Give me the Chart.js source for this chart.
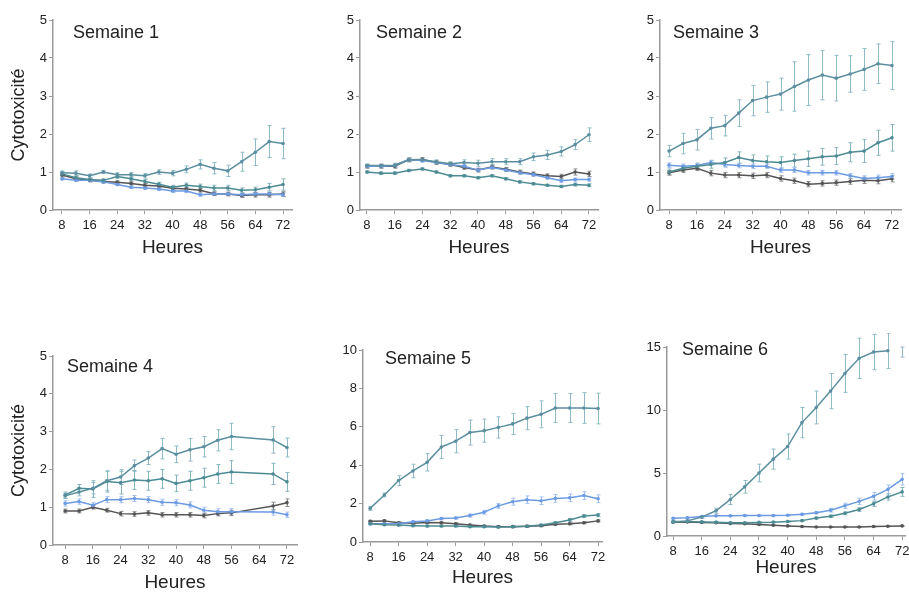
<!DOCTYPE html>
<html>
<head>
<meta charset="utf-8">
<title>Cytotoxicité par semaine</title>
<script src="https://cdn.jsdelivr.net/npm/chart.js@4.4.1/dist/chart.umd.min.js"></script>
<style>
  html, body { margin: 0; padding: 0; background: #fff; width: 909px; height: 592px; overflow: hidden; }
  #wrap { position: relative; width: 909px; height: 592px; }
  #wrap canvas { position: absolute; }
</style>
</head>
<body>
<div id="wrap"></div>
<script>
// time points and labels
const hours = [8, 12, 16, 20, 24, 28, 32, 36, 40, 44, 48, 52, 56, 60, 64, 68, 72];
const hourTicks = [8, 16, 24, 32, 40, 48, 56, 64, 72];
const titles = ["Semaine 1", "Semaine 2", "Semaine 3", "Semaine 4", "Semaine 5", "Semaine 6"];
const xLabel = "Heures";
const yLabel = "Cytotoxicité";

// semaine 1
const w1A = [0.98, 0.97, 0.90, 1.00, 0.93, 0.93, 0.90, 1.00, 0.97, 1.07, 1.20, 1.10, 1.03, 1.27, 1.52, 1.80, 1.75];
const w1Aerr = [0.05, 0.06, 0.05, 0.04, 0.05, 0.06, 0.06, 0.06, 0.07, 0.09, 0.12, 0.15, 0.15, 0.25, 0.35, 0.42, 0.40];
const w1B = [0.95, 0.85, 0.80, 0.78, 0.88, 0.82, 0.75, 0.68, 0.60, 0.65, 0.62, 0.58, 0.58, 0.52, 0.53, 0.60, 0.67];
const w1Berr = [0.05, 0.05, 0.04, 0.04, 0.05, 0.05, 0.05, 0.05, 0.05, 0.06, 0.06, 0.07, 0.07, 0.06, 0.07, 0.10, 0.15];
const w1C = [0.82, 0.78, 0.78, 0.74, 0.67, 0.60, 0.58, 0.55, 0.50, 0.50, 0.40, 0.42, 0.42, 0.40, 0.42, 0.42, 0.40];
const w1Cerr = [0.03, 0.03, 0.03, 0.03, 0.03, 0.03, 0.04, 0.04, 0.04, 0.04, 0.04, 0.04, 0.04, 0.04, 0.05, 0.05, 0.05];
const w1D = [0.92, 0.82, 0.78, 0.75, 0.73, 0.70, 0.65, 0.63, 0.57, 0.55, 0.52, 0.43, 0.42, 0.38, 0.40, 0.40, 0.42];
const w1Derr = [0.05, 0.05, 0.04, 0.04, 0.04, 0.04, 0.05, 0.05, 0.05, 0.05, 0.05, 0.05, 0.05, 0.05, 0.06, 0.06, 0.06];

// semaine 2
const w2A = [1.17, 1.17, 1.18, 1.32, 1.32, 1.27, 1.22, 1.25, 1.23, 1.27, 1.27, 1.27, 1.40, 1.45, 1.54, 1.72, 1.98];
const w2Aerr = [0.04, 0.04, 0.05, 0.05, 0.05, 0.05, 0.05, 0.07, 0.08, 0.08, 0.08, 0.08, 0.10, 0.12, 0.12, 0.13, 0.18];
const w2B = [1.00, 0.97, 0.97, 1.04, 1.08, 1.00, 0.90, 0.90, 0.85, 0.90, 0.82, 0.74, 0.69, 0.65, 0.62, 0.67, 0.65];
const w2Berr = [0.03, 0.03, 0.03, 0.03, 0.03, 0.03, 0.03, 0.03, 0.03, 0.03, 0.03, 0.03, 0.03, 0.03, 0.03, 0.04, 0.04];
const w2C = [1.15, 1.15, 1.17, 1.32, 1.30, 1.25, 1.20, 1.15, 1.05, 1.12, 1.05, 0.98, 0.93, 0.85, 0.77, 0.80, 0.80];
const w2Cerr = [0.04, 0.04, 0.04, 0.04, 0.04, 0.04, 0.04, 0.04, 0.04, 0.04, 0.04, 0.04, 0.04, 0.04, 0.04, 0.04, 0.04];
const w2D = [1.15, 1.15, 1.15, 1.32, 1.33, 1.25, 1.20, 1.12, 1.05, 1.13, 1.07, 1.00, 0.95, 0.90, 0.88, 1.00, 0.95];
const w2Derr = [0.05, 0.05, 0.05, 0.05, 0.05, 0.05, 0.05, 0.05, 0.05, 0.05, 0.05, 0.05, 0.05, 0.05, 0.06, 0.08, 0.07];

// semaine 3
const w3A = [1.55, 1.75, 1.85, 2.15, 2.22, 2.55, 2.88, 2.97, 3.05, 3.25, 3.42, 3.55, 3.47, 3.58, 3.70, 3.85, 3.80];
const w3Aerr = [0.15, 0.27, 0.27, 0.28, 0.27, 0.35, 0.40, 0.40, 0.42, 0.65, 0.67, 0.65, 0.60, 0.48, 0.55, 0.52, 0.63];
const w3B = [1.00, 1.10, 1.15, 1.20, 1.25, 1.38, 1.30, 1.27, 1.25, 1.30, 1.35, 1.40, 1.42, 1.52, 1.55, 1.77, 1.90];
const w3Berr = [0.08, 0.08, 0.08, 0.10, 0.12, 0.15, 0.15, 0.15, 0.15, 0.17, 0.20, 0.22, 0.22, 0.25, 0.30, 0.33, 0.35];
const w3C = [1.18, 1.15, 1.17, 1.25, 1.20, 1.17, 1.15, 1.15, 1.05, 1.05, 0.98, 0.98, 0.98, 0.90, 0.83, 0.85, 0.88];
const w3Cerr = [0.06, 0.06, 0.06, 0.06, 0.06, 0.06, 0.06, 0.06, 0.06, 0.06, 0.06, 0.06, 0.06, 0.06, 0.07, 0.07, 0.08];
const w3D = [0.98, 1.05, 1.10, 0.97, 0.92, 0.92, 0.90, 0.92, 0.83, 0.77, 0.68, 0.70, 0.72, 0.75, 0.78, 0.77, 0.82];
const w3Derr = [0.06, 0.06, 0.06, 0.07, 0.07, 0.07, 0.07, 0.07, 0.07, 0.07, 0.07, 0.07, 0.07, 0.07, 0.08, 0.08, 0.08];

// semaine 4 (pas de mesure a 60 et 64 h)
const w4A = [1.30, 1.40, 1.50, 1.70, 1.80, 2.10, 2.30, 2.55, 2.40, 2.52, 2.60, 2.77, 2.87, null, null, 2.78, 2.58];
const w4Aerr = [0.07, 0.10, 0.15, 0.25, 0.20, 0.15, 0.17, 0.27, 0.22, 0.30, 0.27, 0.28, 0.35, null, null, 0.35, 0.25];
const w4B = [1.32, 1.50, 1.48, 1.68, 1.65, 1.72, 1.70, 1.75, 1.63, 1.70, 1.78, 1.88, 1.93, null, null, 1.88, 1.67];
const w4Berr = [0.08, 0.10, 0.22, 0.28, 0.30, 0.25, 0.25, 0.25, 0.22, 0.25, 0.25, 0.25, 0.30, null, null, 0.28, 0.25];
const w4C = [1.10, 1.15, 1.05, 1.20, 1.20, 1.23, 1.20, 1.13, 1.12, 1.06, 0.92, 0.88, 0.88, null, null, 0.87, 0.80];
const w4Cerr = [0.07, 0.07, 0.07, 0.08, 0.08, 0.08, 0.08, 0.08, 0.08, 0.08, 0.08, 0.08, 0.08, null, null, 0.08, 0.07];
const w4D = [0.90, 0.90, 1.00, 0.92, 0.83, 0.82, 0.85, 0.80, 0.80, 0.80, 0.78, 0.83, 0.85, null, null, 1.03, 1.12];
const w4Derr = [0.05, 0.05, 0.05, 0.05, 0.06, 0.06, 0.06, 0.06, 0.06, 0.06, 0.06, 0.06, 0.07, null, null, 0.10, 0.10];

// semaine 5
const w5A = [1.75, 2.45, 3.20, 3.70, 4.15, 4.95, 5.25, 5.70, 5.80, 5.97, 6.15, 6.45, 6.65, 6.98, 6.98, 6.98, 6.95];
const w5Aerr = [0.10, 0.10, 0.25, 0.35, 0.45, 0.60, 0.60, 0.65, 0.60, 0.55, 0.55, 0.60, 0.70, 0.75, 0.75, 0.80, 0.80];
const w5B = [0.95, 0.90, 0.88, 0.85, 0.83, 0.83, 0.83, 0.80, 0.80, 0.78, 0.80, 0.82, 0.88, 1.00, 1.15, 1.35, 1.40];
const w5Berr = [0.05, 0.05, 0.05, 0.05, 0.05, 0.05, 0.05, 0.05, 0.05, 0.05, 0.05, 0.05, 0.05, 0.06, 0.07, 0.08, 0.08];
const w5C = [0.95, 0.95, 0.95, 1.05, 1.10, 1.22, 1.25, 1.38, 1.55, 1.88, 2.10, 2.20, 2.15, 2.27, 2.30, 2.42, 2.25];
const w5Cerr = [0.05, 0.05, 0.05, 0.05, 0.05, 0.06, 0.06, 0.08, 0.10, 0.12, 0.18, 0.20, 0.20, 0.20, 0.20, 0.20, 0.20];
const w5D = [1.08, 1.10, 1.00, 0.98, 1.02, 1.00, 0.95, 0.88, 0.83, 0.80, 0.80, 0.82, 0.85, 0.92, 0.95, 1.00, 1.10];
const w5Derr = [0.05, 0.05, 0.05, 0.05, 0.05, 0.05, 0.05, 0.05, 0.05, 0.05, 0.05, 0.05, 0.05, 0.05, 0.05, 0.05, 0.05];

// semaine 6
const w6A = [1.10, 1.20, 1.50, 2.00, 2.90, 3.90, 5.00, 6.10, 7.10, 9.00, 10.20, 11.50, 12.90, 14.10, 14.60, 14.70, 14.60];
const w6Aerr = [0.05, 0.08, 0.10, 0.20, 0.40, 0.50, 0.70, 0.80, 1.00, 1.20, 1.30, 1.40, 1.50, 1.60, 1.40, 1.40, 0.40];
const w6B = [1.15, 1.15, 1.12, 1.10, 1.05, 1.05, 1.08, 1.10, 1.15, 1.22, 1.42, 1.57, 1.80, 2.10, 2.55, 3.10, 3.50];
const w6Berr = [0.05, 0.05, 0.05, 0.05, 0.05, 0.05, 0.05, 0.05, 0.06, 0.07, 0.08, 0.10, 0.12, 0.15, 0.20, 0.25, 0.35];
const w6C = [1.40, 1.45, 1.55, 1.60, 1.60, 1.62, 1.62, 1.62, 1.65, 1.72, 1.85, 2.05, 2.40, 2.75, 3.15, 3.70, 4.50];
const w6Cerr = [0.05, 0.05, 0.05, 0.05, 0.05, 0.05, 0.05, 0.05, 0.06, 0.08, 0.10, 0.15, 0.20, 0.25, 0.30, 0.35, 0.45];
const w6D = [1.10, 1.12, 1.08, 1.05, 1.00, 0.97, 0.92, 0.85, 0.80, 0.75, 0.72, 0.72, 0.72, 0.72, 0.75, 0.77, 0.80];
const w6Derr = [0.03, 0.03, 0.03, 0.03, 0.03, 0.03, 0.03, 0.03, 0.03, 0.03, 0.03, 0.03, 0.03, 0.03, 0.03, 0.03, 0.03];

// look of the four groups
const seriesLook = [
  { line: "#5b8f9f", err: "#8fbac8" },
  { line: "#4d8b94", err: "#86b5bd" },
  { line: "#6c9be3", err: "#a2c0f0" },
  { line: "#555555", err: "#8a8a8a" }
];
const font = "'Liberation Sans', Arial, sans-serif";
const axisColor = "#9a9a9a";
const textColor = "#222";

// panel setup: plot box in page pixels, x range, label offsets
const panels = [
  { title: titles[0], series: [[w1A, w1Aerr], [w1B, w1Berr], [w1C, w1Cerr], [w1D, w1Derr]],
    yMax: 5, yStep: 1, yTitle: true, box: [53, 20, 292, 210], xMin: 5.4, xMax: 74.6, tdx: 20, tdy: 13, xH: 50 },
  { title: titles[1], series: [[w2A, w2Aerr], [w2B, w2Berr], [w2C, w2Cerr], [w2D, w2Derr]],
    yMax: 5, yStep: 1, yTitle: false, box: [360, 20, 598, 210], xMin: 6.0, xMax: 74.6, tdx: 16, tdy: 13, xH: 50 },
  { title: titles[2], series: [[w3A, w3Aerr], [w3B, w3Berr], [w3C, w3Cerr], [w3D, w3Derr]],
    yMax: 5, yStep: 1, yTitle: false, box: [660, 20, 901, 210], xMin: 5.4, xMax: 74.6, tdx: 13, tdy: 13, xH: 50 },
  { title: titles[3], series: [[w4A, w4Aerr], [w4B, w4Berr], [w4C, w4Cerr], [w4D, w4Derr]],
    yMax: 5, yStep: 1, yTitle: true, box: [53, 356, 297, 545], xMin: 4.5, xMax: 74.9, tdx: 14, tdy: 11, xH: 50 },
  { title: titles[4], series: [[w5A, w5Aerr], [w5B, w5Berr], [w5C, w5Cerr], [w5D, w5Derr]],
    yMax: 10, yStep: 2, yTitle: false, box: [363, 350, 602, 542], xMin: 6.0, xMax: 73.1, tdx: 22, tdy: 9, xH: 48 },
  { title: titles[5], series: [[w6A, w6Aerr], [w6B, w6Berr], [w6C, w6Cerr], [w6D, w6Derr]],
    yMax: 15, yStep: 5, yTitle: false, box: [667, 347, 905, 536], xMin: 6.3, xMax: 72.8, tdx: 15, tdy: 3, xH: 44,
    openEnd: 0 }
];

const yW = 50, padTop = 14, padRight = 12;

// vertical error bars with small caps
const errorBars = {
  id: "errorBars",
  beforeDatasetsDraw(chart) {
    const { ctx, scales: { x, y } } = chart;
    ctx.save();
    ctx.lineWidth = 1;
    chart.data.datasets.forEach(function (ds) {
      ctx.strokeStyle = ds.errorColor;
      ds.data.forEach(function (pt, i) {
        const e = ds.errors[i];
        if (pt.y == null || !e) return;
        const px = Math.round(x.getPixelForValue(pt.x)) + 0.5;
        const top = y.getPixelForValue(pt.y + e);
        const bot = y.getPixelForValue(pt.y - e);
        ctx.beginPath();
        ctx.moveTo(px, top); ctx.lineTo(px, bot);
        ctx.moveTo(px - 2, top); ctx.lineTo(px + 2, top);
        ctx.moveTo(px - 2, bot); ctx.lineTo(px + 2, bot);
        ctx.stroke();
      });
    });
    ctx.restore();
  }
};

// "Semaine n" inside the plot
const panelTitle = {
  id: "panelTitle",
  afterDraw(chart, args, opts) {
    const { ctx, chartArea } = chart;
    ctx.save();
    ctx.font = "18px " + font;
    ctx.fillStyle = textColor;
    ctx.textBaseline = "middle";
    ctx.fillText(opts.text, chartArea.left + opts.dx, chartArea.top + opts.dy);
    ctx.restore();
  }
};

const wrap = document.getElementById("wrap");

panels.forEach(function (p) {
  const [l, t, r, b] = p.box;
  const canvas = document.createElement("canvas");
  canvas.width = yW + (r - l) + padRight;
  canvas.height = padTop + (b - t) + p.xH;
  canvas.style.left = (l - yW) + "px";
  canvas.style.top = (t - padTop) + "px";
  wrap.appendChild(canvas);

  const datasets = p.series.map(function (s, k) {
    const look = seriesLook[k];
    const hideLast = p.openEnd === k;
    return {
      data: hours.map(function (h, i) { return { x: h, y: s[0][i] }; }),
      errors: s[1],
      errorColor: look.err,
      borderColor: look.line,
      backgroundColor: look.line,
      borderWidth: 1.5,
      pointRadius: hours.map(function (h, i) { return hideLast && i === hours.length - 1 ? 0 : 1.8; }),
      pointBorderWidth: 0,
      tension: 0,
      spanGaps: true,
      segment: {
        borderColor: function (ctx) {
          return hideLast && ctx.p1DataIndex === hours.length - 1 ? "rgba(0,0,0,0)" : undefined;
        }
      }
    };
  });

  new Chart(canvas, {
    type: "line",
    data: { datasets: datasets },
    options: {
      responsive: false,
      animation: false,
      events: [],
      layout: { padding: { top: padTop, right: padRight, left: 0, bottom: 0 } },
      plugins: {
        legend: { display: false },
        tooltip: { enabled: false },
        panelTitle: { text: p.title, dx: p.tdx, dy: p.tdy }
      },
      scales: {
        x: {
          type: "linear",
          min: p.xMin,
          max: p.xMax,
          afterBuildTicks: function (scale) {
            scale.ticks = hourTicks.map(function (v) { return { value: v }; });
          },
          afterFit: function (scale) { scale.height = p.xH; },
          grid: { drawOnChartArea: false, tickLength: 4, color: axisColor },
          border: { color: axisColor, width: 1.5 },
          ticks: { color: textColor, font: { family: font, size: 13 }, padding: 4, maxRotation: 0, autoSkip: false },
          title: { display: true, text: xLabel, color: textColor, font: { family: font, size: 19 }, padding: { top: 0, bottom: 1 } }
        },
        y: {
          min: 0,
          max: p.yMax,
          afterFit: function (scale) { scale.width = yW; },
          grid: { drawOnChartArea: false, tickLength: 4, color: axisColor },
          border: { color: axisColor, width: 1.5 },
          ticks: { stepSize: p.yStep, color: textColor, font: { family: font, size: 13 }, padding: 2 },
          title: { display: p.yTitle, text: yLabel, color: textColor, font: { family: font, size: 18 }, padding: { top: 5, bottom: 0 } }
        }
      }
    },
    plugins: [errorBars, panelTitle]
  });
});
</script>
</body>
</html>
